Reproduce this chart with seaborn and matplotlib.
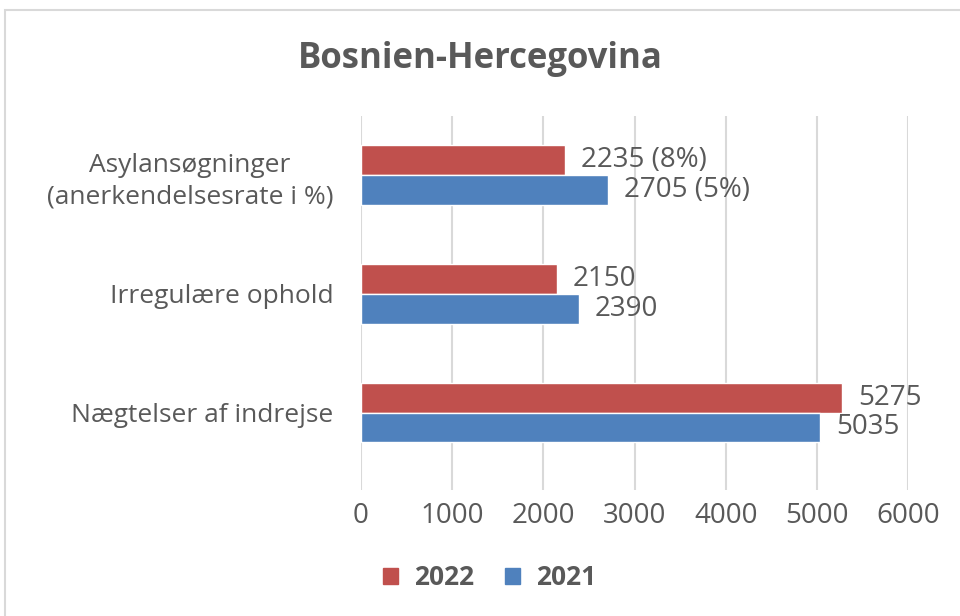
import matplotlib.pyplot as plt
import matplotlib.patches as mpatches
import seaborn as sns
import pandas as pd

categories = ['Asylansøgninger\n(anerkendelsesrate i %)', 'Irregulære ophold', 'Nægtelser af indrejse']
years = ['2022', '2021']
values_2022 = [2235, 2150, 5275]
values_2021 = [2705, 2390, 5035]
labels_2022 = ['2235 (8%)', '2150', '5275']
labels_2021 = ['2705 (5%)', '2390', '5035']
x_ticks = [0, 1000, 2000, 3000, 4000, 5000, 6000]

colors = {'2022': '#C0504D', '2021': '#4F81BD'}
text_color = '#595959'

df = pd.DataFrame({
    'category': categories * 2,
    'year': ['2022'] * 3 + ['2021'] * 3,
    'value': values_2022 + values_2021,
})

sns.set_style('white')
plt.rcParams['font.family'] = ['Open Sans', 'DejaVu Sans']

fig = plt.figure(figsize=(9.6, 6.16), dpi=100)
ax = fig.add_axes([0.376, 0.205, 0.570, 0.607])

sns.barplot(data=df, y='category', x='value', hue='year', hue_order=years,
            order=categories, palette=colors, orient='h', width=0.5,
            saturation=1, ax=ax, legend=False)

ax.set_xlim(0, 6000)
ax.set_ylim(2.65, -0.5)
ax.set_xticks(x_ticks)
ax.set_xticklabels([str(t) for t in x_ticks])
ax.xaxis.grid(True, color='#D9D9D9', linewidth=1.5)
ax.set_axisbelow(True)
for s in ax.spines.values():
    s.set_visible(False)
ax.tick_params(axis='both', length=0, colors=text_color)
ax.tick_params(axis='x', pad=9, labelsize=20)
ax.tick_params(axis='y', pad=20, labelsize=19)
ax.set_xlabel('')
ax.set_ylabel('')
for lab in ax.get_yticklabels():
    lab.set_multialignment('center')
    lab.set_linespacing(1.35)

# value labels
all_labels = {'2022': labels_2022, '2021': labels_2021}
for container, year in zip(ax.containers, years):
    for bar, text in zip(container, all_labels[year]):
        y = bar.get_y() + bar.get_height() / 2
        ax.annotate(text, (bar.get_width(), y), xytext=(16, 0),
                    textcoords='offset pixels', va='center', ha='left',
                    fontsize=20, color=text_color)

fig.suptitle('Bosnien-Hercegovina', x=0.5, y=0.933, fontsize=25,
             fontweight='bold', color=text_color)

handles = [mpatches.Patch(color=colors[y], label=y) for y in years]
fig.legend(handles=handles, loc='center', bbox_to_anchor=(0.51, 0.062), ncol=2,
           frameon=False, handlelength=0.55, handleheight=0.55,
           columnspacing=1.2, handletextpad=0.6,
           prop={'size': 19, 'weight': 'bold'}, labelcolor=text_color)

fig.patches.append(mpatches.Rectangle((5 / 960, -0.1), 1.1, 1.1 - 10 / 616,
                                      transform=fig.transFigure, fill=False,
                                      edgecolor='#D9D9D9', linewidth=1.5))

fig.savefig('out.png', dpi=100)
